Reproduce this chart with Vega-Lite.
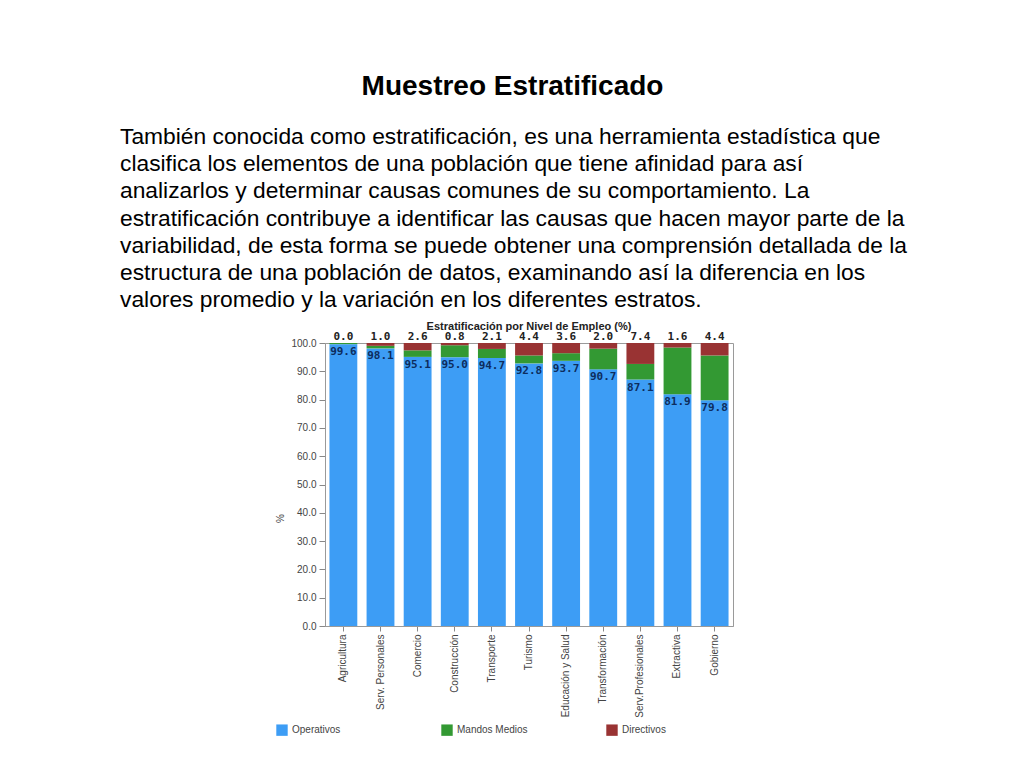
{
  "$schema": "https://vega.github.io/schema/vega-lite/v6.json",
  "background": "white",
  "padding": {"left": 120, "top": 73, "right": 0, "bottom": 0},
  "config": {"font": "Liberation Sans", "view": {"stroke": null}},
  "datasets": {
    "texto": [
      {"line": 1, "text": "También conocida como estratificación, es una herramienta estadística que"},
      {"line": 2, "text": "clasifica los elementos de una población que tiene afinidad para así"},
      {"line": 3, "text": "analizarlos y determinar causas comunes de su comportamiento. La"},
      {"line": 4, "text": "estratificación contribuye a identificar las causas que hacen mayor parte de la"},
      {"line": 5, "text": "variabilidad, de esta forma se puede obtener una comprensión detallada de la"},
      {"line": 6, "text": "estructura de una población de datos, examinando así la diferencia en los"},
      {"line": 7, "text": "valores promedio y la variación en los diferentes estratos."}
    ],
    "empleo": [
      {"sector": "Agricultura", "nivel": "Operativos", "orden": 1, "valor": 99.6},
      {"sector": "Agricultura", "nivel": "Mandos Medios", "orden": 2, "valor": 0.4},
      {"sector": "Agricultura", "nivel": "Directivos", "orden": 3, "valor": 0.0},
      {"sector": "Serv. Personales", "nivel": "Operativos", "orden": 1, "valor": 98.1},
      {"sector": "Serv. Personales", "nivel": "Mandos Medios", "orden": 2, "valor": 0.9},
      {"sector": "Serv. Personales", "nivel": "Directivos", "orden": 3, "valor": 1.0},
      {"sector": "Comercio", "nivel": "Operativos", "orden": 1, "valor": 95.1},
      {"sector": "Comercio", "nivel": "Mandos Medios", "orden": 2, "valor": 2.3},
      {"sector": "Comercio", "nivel": "Directivos", "orden": 3, "valor": 2.6},
      {"sector": "Construcción", "nivel": "Operativos", "orden": 1, "valor": 95.0},
      {"sector": "Construcción", "nivel": "Mandos Medios", "orden": 2, "valor": 4.2},
      {"sector": "Construcción", "nivel": "Directivos", "orden": 3, "valor": 0.8},
      {"sector": "Transporte", "nivel": "Operativos", "orden": 1, "valor": 94.7},
      {"sector": "Transporte", "nivel": "Mandos Medios", "orden": 2, "valor": 3.2},
      {"sector": "Transporte", "nivel": "Directivos", "orden": 3, "valor": 2.1},
      {"sector": "Turismo", "nivel": "Operativos", "orden": 1, "valor": 92.8},
      {"sector": "Turismo", "nivel": "Mandos Medios", "orden": 2, "valor": 2.8},
      {"sector": "Turismo", "nivel": "Directivos", "orden": 3, "valor": 4.4},
      {"sector": "Educación y Salud", "nivel": "Operativos", "orden": 1, "valor": 93.7},
      {"sector": "Educación y Salud", "nivel": "Mandos Medios", "orden": 2, "valor": 2.7},
      {"sector": "Educación y Salud", "nivel": "Directivos", "orden": 3, "valor": 3.6},
      {"sector": "Transformación", "nivel": "Operativos", "orden": 1, "valor": 90.7},
      {"sector": "Transformación", "nivel": "Mandos Medios", "orden": 2, "valor": 7.3},
      {"sector": "Transformación", "nivel": "Directivos", "orden": 3, "valor": 2.0},
      {"sector": "Serv.Profesionales", "nivel": "Operativos", "orden": 1, "valor": 87.1},
      {"sector": "Serv.Profesionales", "nivel": "Mandos Medios", "orden": 2, "valor": 5.5},
      {"sector": "Serv.Profesionales", "nivel": "Directivos", "orden": 3, "valor": 7.4},
      {"sector": "Extractiva", "nivel": "Operativos", "orden": 1, "valor": 81.9},
      {"sector": "Extractiva", "nivel": "Mandos Medios", "orden": 2, "valor": 16.5},
      {"sector": "Extractiva", "nivel": "Directivos", "orden": 3, "valor": 1.6},
      {"sector": "Gobierno", "nivel": "Operativos", "orden": 1, "valor": 79.8},
      {"sector": "Gobierno", "nivel": "Mandos Medios", "orden": 2, "valor": 15.8},
      {"sector": "Gobierno", "nivel": "Directivos", "orden": 3, "valor": 4.4}
    ]
  },
  "spacing": 6,
  "resolve": {"legend": {"color": "independent"}},
  "vconcat": [
    {
      "width": 785,
      "height": 191,
      "title": {"text": "Muestreo Estratificado", "fontSize": 28, "fontWeight": "bold", "anchor": "middle", "color": "black", "font": "Liberation Sans", "offset": 22},
      "data": {"name": "texto"},
      "mark": {"type": "text", "align": "left", "baseline": "middle", "fontSize": 22.8, "color": "black", "font": "Liberation Sans"},
      "encoding": {
        "y": {"field": "line", "type": "ordinal", "axis": null},
        "x": {"datum": 0, "type": "quantitative", "scale": {"domain": [0, 1]}, "axis": null},
        "text": {"field": "text"}
      }
    },
    {
      "spacing": 0,
      "resolve": {"legend": {"color": "independent"}},
      "hconcat": [
        {
          "width": 155,
          "height": 10,
          "data": {"values": []},
          "mark": {"type": "point"}
        },
        {
          "width": 408,
          "height": 283,
          "view": {"stroke": "#9a9a9a"},
          "title": {"text": "Estratificación por Nivel de Empleo (%)", "fontSize": 11, "fontWeight": "bold", "color": "#222", "font": "Liberation Sans", "offset": -1},
          "data": {"name": "empleo"},
          "layer": [
            {
              "mark": {"type": "bar"},
              "encoding": {
                "x": {"field": "sector", "type": "nominal", "sort": null,
                      "scale": {"paddingInner": 0.25, "paddingOuter": 0.12},
                      "axis": {"title": null, "labelAngle": -90, "labelFontSize": 10, "labelColor": "#444", "tickColor": "#888", "domainColor": "#9a9a9a", "labelPadding": 3}},
                "y": {"field": "valor", "type": "quantitative", "stack": "zero",
                      "scale": {"domain": [0, 100]},
                      "axis": {"values": [0, 10, 20, 30, 40, 50, 60, 70, 80, 90, 100], "tickCount": 11, "labelOverlap": false, "format": ".1f", "grid": false, "labelFontSize": 10, "labelColor": "#444", "tickColor": "#888", "tickSize": 6, "labelPadding": 3, "domainColor": "#9a9a9a", "title": "%", "titleFontSize": 10, "titleFontWeight": "normal", "titleColor": "#444", "titlePadding": 5, "titleY": 175}},
                "color": {"field": "nivel", "type": "nominal",
                          "scale": {"domain": ["Operativos", "Mandos Medios", "Directivos"], "range": ["#3d9df5", "#339933", "#993333"]},
                          "legend": {"title": null, "orient": "none", "legendX": -49, "legendY": 381, "direction": "horizontal", "columns": 3, "gridAlign": "all", "columnPadding": 78, "symbolType": "square", "symbolSize": 130, "symbolStrokeWidth": 0, "labelFontSize": 10, "labelColor": "#444"}},
                "order": {"field": "orden", "type": "quantitative"}
              }
            },
            {
              "transform": [{"filter": "datum.nivel == 'Operativos'"}],
              "mark": {"type": "text", "baseline": "top", "dy": 2, "font": "DejaVu Sans Mono", "fontWeight": "bold", "fontSize": 11, "color": "#0d2d5e"},
              "encoding": {
                "x": {"field": "sector", "type": "nominal", "sort": null},
                "y": {"field": "valor", "type": "quantitative"},
                "text": {"field": "valor", "type": "quantitative", "format": ".1f"}
              }
            },
            {
              "transform": [{"filter": "datum.nivel == 'Directivos'"}],
              "mark": {"type": "text", "baseline": "bottom", "dy": -1, "font": "DejaVu Sans Mono", "fontWeight": "bold", "fontSize": 11, "color": "#222"},
              "encoding": {
                "x": {"field": "sector", "type": "nominal", "sort": null},
                "y": {"datum": 100, "type": "quantitative"},
                "text": {"field": "valor", "type": "quantitative", "format": ".1f"}
              }
            }
          ]
        }
      ]
    }
  ]
}
